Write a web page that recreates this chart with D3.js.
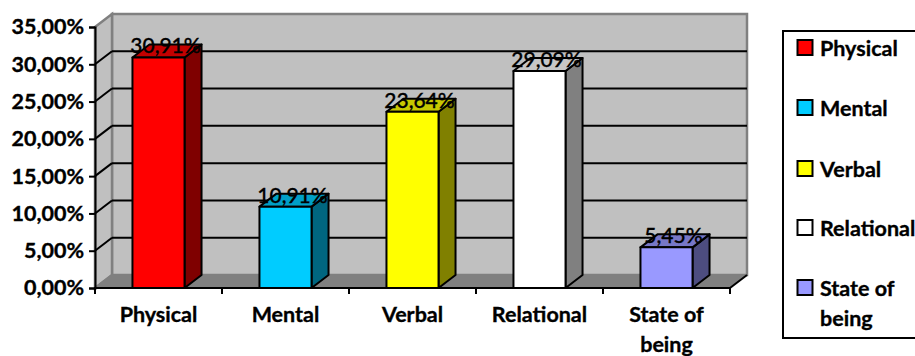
<!DOCTYPE html>
<html>
<head>
<meta charset="utf-8">
<script src="https://cdn.jsdelivr.net/npm/d3@7"></script>
<style>
html, body { margin: 0; padding: 0; background: #fff; overflow: hidden; }
svg { display: block; }
text { font-family: Lato, "Open Sans", sans-serif; fill: #000; }
</style>
</head>
<body>
<script>
const categories = ["Physical", "Mental", "Verbal", "Relational", "State of being"];
const values = [30.91, 10.91, 23.64, 29.09, 5.45];
const valueLabels = ["30,91%", "10,91%", "23,64%", "29,09%", "5,45%"];
const frontColors = ["#ff0000", "#00ccff", "#ffff00", "#ffffff", "#9999ff"];
const topColors = ["#c40000", "#009fc7", "#c7c700", "#c7c7c7", "#7777c7"];
const sideColors = ["#7f0000", "#006680", "#808000", "#808080", "#4d4d80"];
const yTicks = [0, 5, 10, 15, 20, 25, 30, 35];
const fmtTick = v => v.toFixed(2).replace(".", ",") + "%";

const width = 915, height = 356;
const dx = 17, dy = -13;
const plot = { left: 95, right: 730, top: 27, bottom: 288 };
const labelSize = 21.5;

const svg = d3.select("body").append("svg").attr("width", width).attr("height", height);
const x = d3.scaleBand().domain(categories).range([plot.left, plot.right]).paddingInner(0.59).paddingOuter(0.295);
const y = d3.scaleLinear().domain([0, 35]).range([plot.bottom, plot.top]);

const poly = pts => "M" + pts.map(p => p.join(",")).join("L") + "Z";
const wallColor = "#c0c0c0", edgeColor = "#808080";

// Back wall, side wall and floor of the 3D box
svg.append("path")
  .attr("d", poly([[plot.left + dx, y(35) + dy], [plot.right + dx, y(35) + dy], [plot.right + dx, y(0) + dy], [plot.left + dx, y(0) + dy]]))
  .attr("fill", wallColor).attr("stroke", edgeColor).attr("stroke-width", 2.5);
svg.append("path")
  .attr("d", poly([[plot.left, y(35)], [plot.left + dx, y(35) + dy], [plot.left + dx, y(0) + dy], [plot.left, y(0)]]))
  .attr("fill", wallColor).attr("stroke", edgeColor).attr("stroke-width", 2.5);
svg.append("path")
  .attr("d", poly([[plot.left, y(0)], [plot.left + dx, y(0) + dy], [plot.right + dx, y(0) + dy], [plot.right, y(0)]]))
  .attr("fill", edgeColor);

// Gridlines run along the back wall and slant down the side wall
const grid = svg.append("g").attr("stroke", "#000").attr("stroke-width", 2).attr("fill", "none");
yTicks.filter(t => t > 0 && t < 35).forEach(t => {
  grid.append("line").attr("x1", plot.left + dx).attr("x2", plot.right + dx)
    .attr("y1", y(t) + dy).attr("y2", y(t) + dy);
  grid.append("line").attr("x1", plot.left).attr("x2", plot.left + dx)
    .attr("y1", y(t)).attr("y2", y(t) + dy);
});
svg.append("line").attr("x1", plot.left).attr("x2", plot.left + dx)
  .attr("y1", y(0)).attr("y2", y(0) + dy).attr("stroke", edgeColor).attr("stroke-width", 2);
svg.append("line").attr("x1", plot.right).attr("x2", plot.right + dx)
  .attr("y1", y(0)).attr("y2", y(0) + dy).attr("stroke", "#000").attr("stroke-width", 2);

// Axes
const yAxis = svg.append("g").attr("transform", `translate(${plot.left},0)`)
  .call(d3.axisLeft(y).tickValues(yTicks).tickFormat(fmtTick).tickSize(6).tickPadding(5));
yAxis.selectAll("path,line").attr("stroke", "#000").attr("stroke-width", 2);
yAxis.selectAll("text").attr("font-size", labelSize).attr("font-weight", 700)
  .attr("stroke", "#000").attr("stroke-width", 0.35);

const xAxisLine = svg.append("g").attr("stroke", "#000").attr("stroke-width", 2);
xAxisLine.append("line").attr("x1", plot.left - 1).attr("x2", plot.right + 1).attr("y1", y(0)).attr("y2", y(0));
d3.range(categories.length + 1).forEach(i => {
  const tx = plot.left + i * (plot.right - plot.left) / categories.length;
  xAxisLine.append("line").attr("x1", tx).attr("x2", tx).attr("y1", y(0)).attr("y2", y(0) + 6);
});

// Extruded columns
const bars = svg.append("g").selectAll("g").data(categories).join("g");
bars.each(function (c, i) {
  const g = d3.select(this);
  const x0 = x(c), x1 = x0 + x.bandwidth(), yt = y(values[i]), yb = y(0);
  const add = (pts, fill) => g.append("path").attr("d", poly(pts)).attr("fill", fill)
    .attr("stroke", "#000").attr("stroke-width", 2).attr("stroke-linejoin", "round");
  add([[x1, yb], [x1 + dx, yb + dy], [x1 + dx, yt + dy], [x1, yt]], sideColors[i]);
  add([[x0, yt], [x0 + dx, yt + dy], [x1 + dx, yt + dy], [x1, yt]], topColors[i]);
  add([[x0, yt], [x1, yt], [x1, yb], [x0, yb]], frontColors[i]);
});

// Value labels sit on top of each column
svg.append("g").selectAll("text").data(categories).join("text")
  .attr("x", c => x(c) + x.bandwidth() / 2 + 7)
  .attr("y", (c, i) => y(values[i]) - 4)
  .attr("text-anchor", "middle").attr("font-size", 21).attr("font-weight", 500)
  .attr("stroke", "#000").attr("stroke-width", 0.3)
  .text((c, i) => valueLabels[i]);

// Category labels, with the long one broken over two lines
const xLabels = {
  "Physical": ["Physical"], "Mental": ["Mental"], "Verbal": ["Verbal"],
  "Relational": ["Relational"], "State of being": ["State of", "being"]
};
const catG = svg.append("g");
categories.forEach(c => {
  xLabels[c].forEach((line, j) => {
    catG.append("text").attr("x", x(c) + x.bandwidth() / 2).attr("y", 322 + j * 30)
      .attr("text-anchor", "middle").attr("font-size", labelSize).attr("font-weight", 700)
      .attr("stroke", "#000").attr("stroke-width", 0.35).text(line);
  });
});

// Legend, running past the right edge of the page
svg.append("rect").attr("x", 783).attr("y", 31).attr("width", 160).attr("height", 307)
  .attr("fill", "#fff").attr("stroke", "#000").attr("stroke-width", 2);
const legendRows = [48, 108, 169, 228, 288];
const legend = svg.append("g").selectAll("g").data(categories).join("g")
  .attr("transform", (c, i) => `translate(0,${legendRows[i]})`);
legend.append("rect").attr("x", 797.5).attr("y", -8).attr("width", 15).attr("height", 15)
  .attr("fill", (c, i) => frontColors[i]).attr("stroke", "#000").attr("stroke-width", 2);
legend.each(function (c) {
  xLabels[c].forEach((line, j) => {
    d3.select(this).append("text").attr("x", 820).attr("y", 8 + j * 30)
      .attr("font-size", labelSize).attr("font-weight", 700)
      .attr("stroke", "#000").attr("stroke-width", 0.35).text(line);
  });
});
</script>
</body>
</html>
